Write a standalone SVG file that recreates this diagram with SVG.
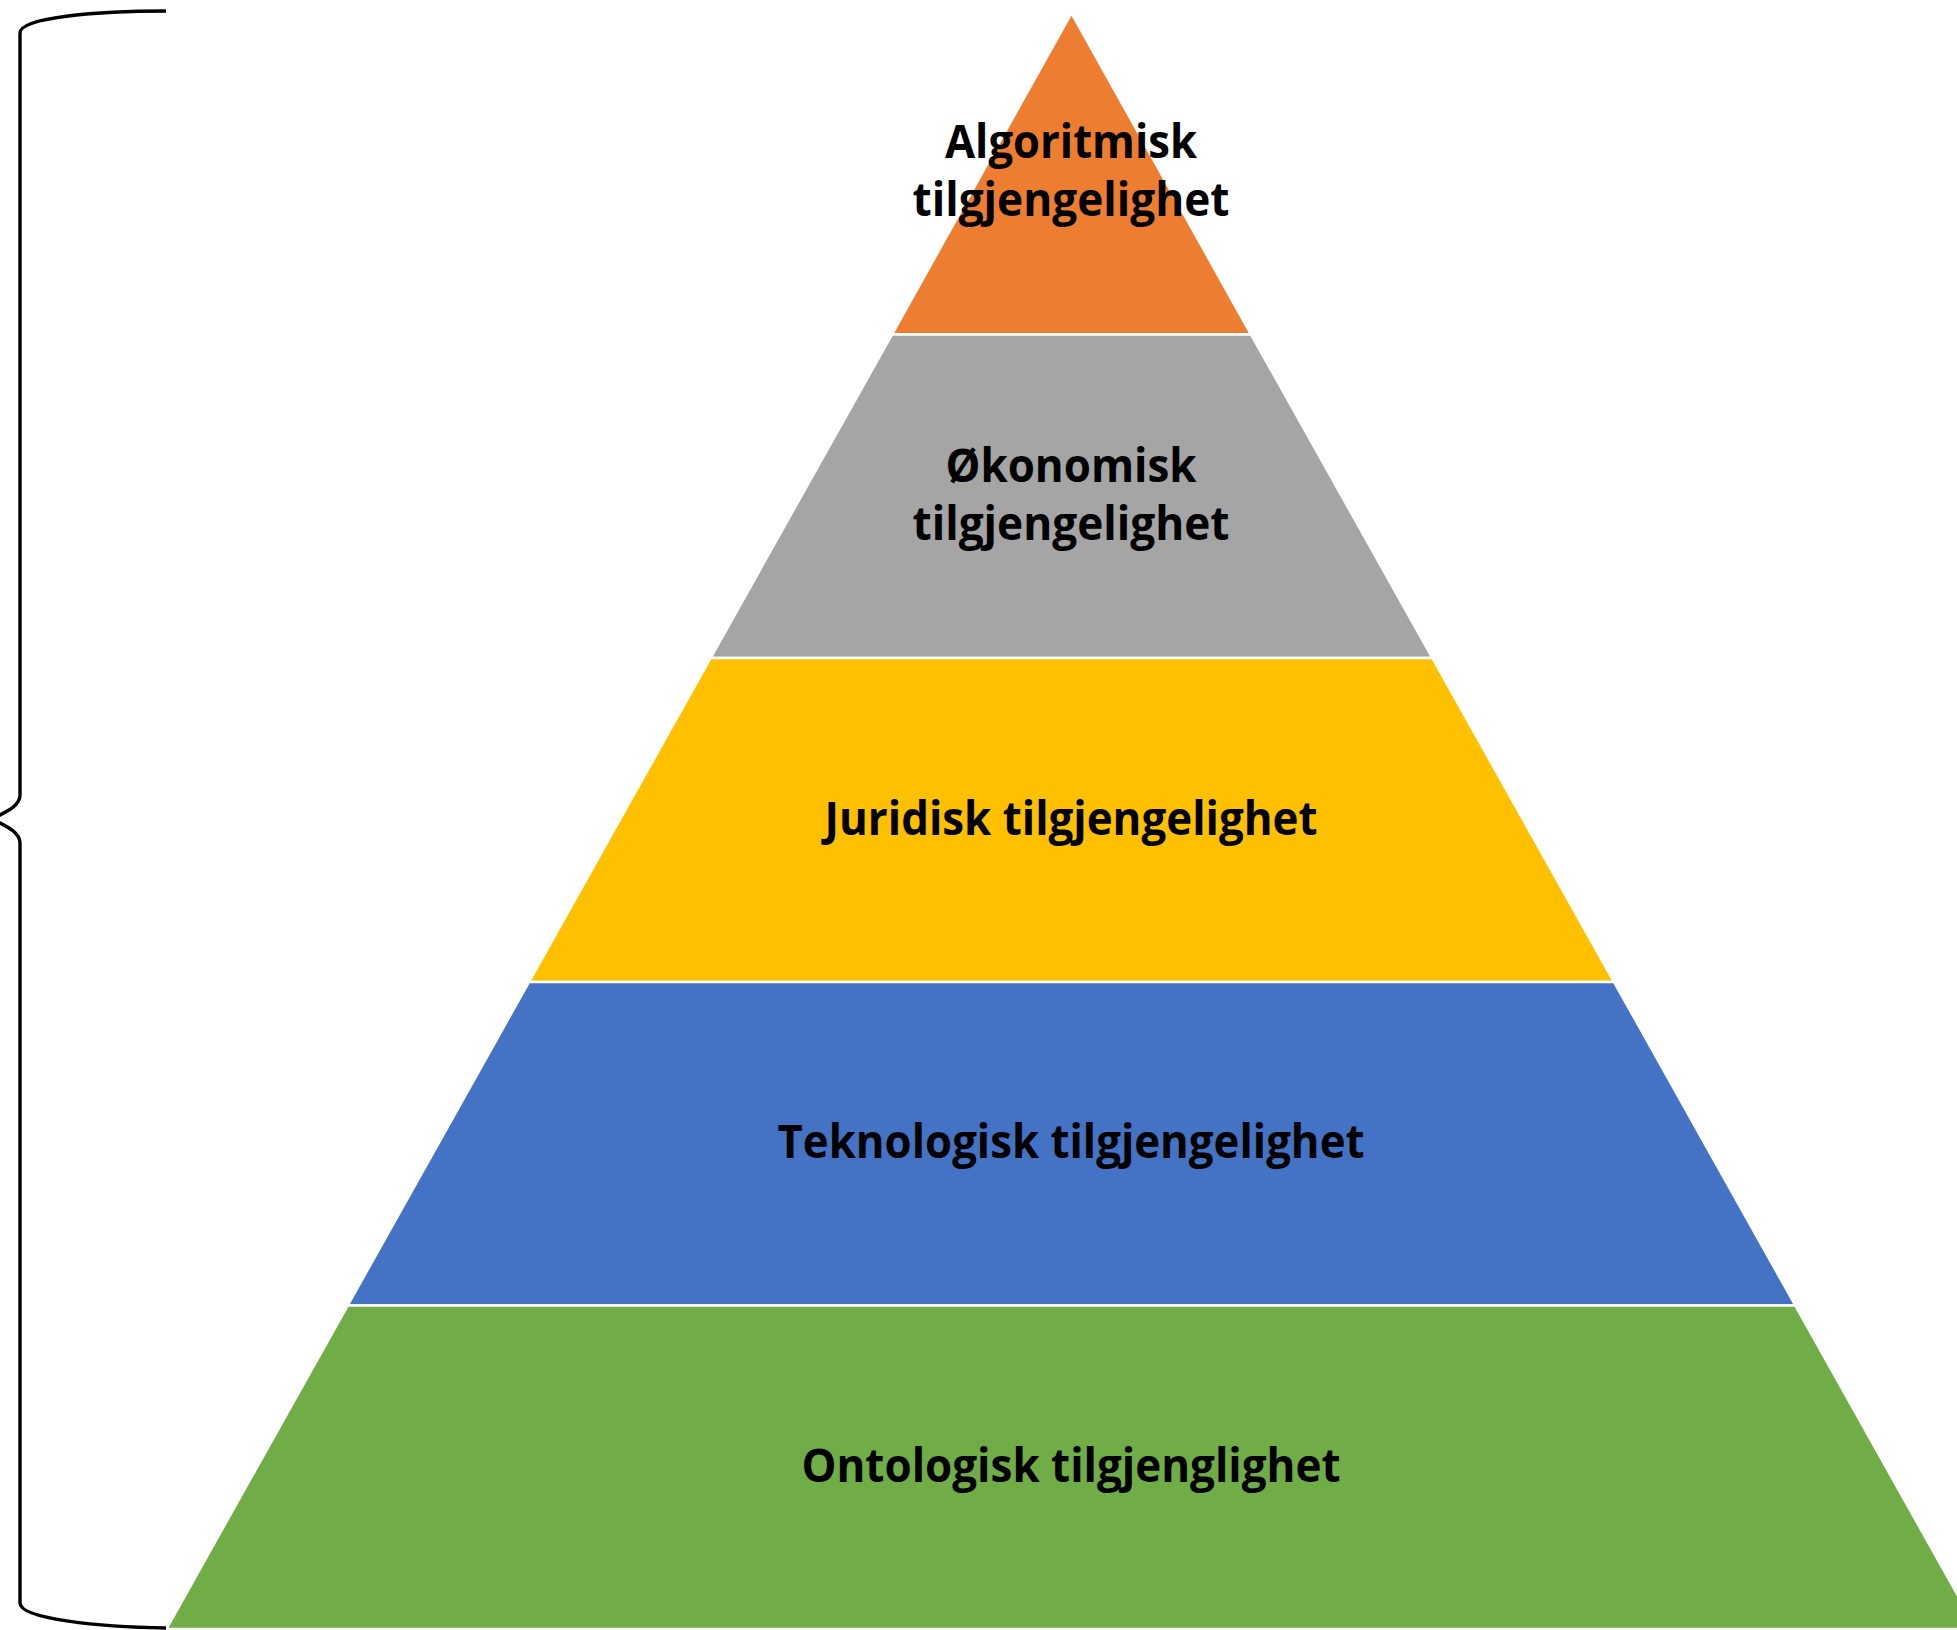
<svg xmlns="http://www.w3.org/2000/svg" width="1957" height="1630" viewBox="0 0 1957 1630">
<style>
.layer{stroke:#FFFFFF;stroke-width:2.6;stroke-linejoin:miter}
.lbl{font-family:"Open Sans","Noto Sans","Liberation Sans",sans-serif;font-weight:700;font-size:47px;fill:#000000;text-anchor:middle}
.brace{fill:none;stroke:#000000;stroke-width:3.4}
</style>
<rect x="0" y="0" width="1957" height="1630" fill="#FFFFFF"/>
<g id="layer-algoritmisk">
<polygon class="layer" fill="#ED7D31" points="1071.5,13 1251.1,334.5 891.9,334.5"/>
<text class="lbl" x="1071" y="158" textLength="252" lengthAdjust="spacingAndGlyphs">Algoritmisk</text>
<text class="lbl" x="1071" y="216" textLength="317" lengthAdjust="spacingAndGlyphs">tilgjengelighet</text>
</g>
<g id="layer-okonomisk">
<polygon class="layer" fill="#A5A5A5" points="891.9,334.5 1251.1,334.5 1432.5,658 710.5,658"/>
<text class="lbl" x="1071" y="482" textLength="251" lengthAdjust="spacingAndGlyphs">Økonomisk</text>
<text class="lbl" x="1071" y="540" textLength="317" lengthAdjust="spacingAndGlyphs">tilgjengelighet</text>
</g>
<g id="layer-juridisk">
<polygon class="layer" fill="#FFC000" points="710.5,658 1432.5,658 1614.1,982 528.9,982"/>
<text class="lbl" x="1071" y="835" textLength="493" lengthAdjust="spacingAndGlyphs">Juridisk tilgjengelighet</text>
</g>
<g id="layer-teknologisk">
<polygon class="layer" fill="#4472C4" points="528.9,982 1614.1,982 1795.4,1305.5 347.6,1305.5"/>
<text class="lbl" x="1071" y="1158" textLength="587" lengthAdjust="spacingAndGlyphs">Teknologisk tilgjengelighet</text>
</g>
<g id="layer-ontologisk">
<polygon class="layer" fill="#70AD47" points="347.6,1305.5 1795.4,1305.5 1976.7,1629 166.3,1629"/>
<text class="lbl" x="1071" y="1482" textLength="539" lengthAdjust="spacingAndGlyphs">Ontologisk tilgjenglighet</text>
</g>
<g id="connectors">
<path class="brace" d="M166,11 C100,11 20,17 20,33 L20,795 C20,806 6,812 -8,819 C6,826 20,832 20,843 L20,1603 C20,1619 100,1627 166,1628"/>
</g>
</svg>
